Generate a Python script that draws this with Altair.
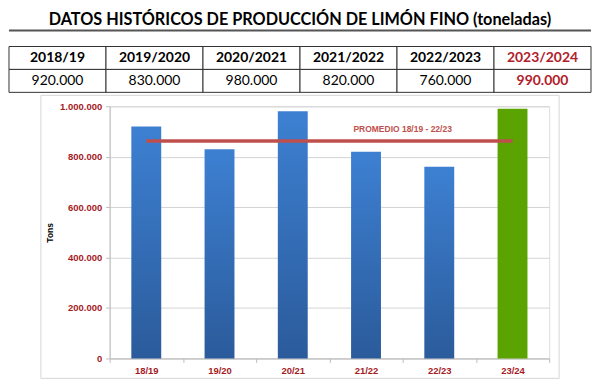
import altair as alt
import pandas as pd

# ---------------- data ----------------
seasons_full = ["2018/19", "2019/2020", "2020/2021", "2021/2022", "2022/2023", "2023/2024"]
seasons_short = ["18/19", "19/20", "20/21", "21/22", "22/23", "23/24"]
production = [920000, 830000, 980000, 820000, 760000, 990000]
is_current = [False, False, False, False, False, True]
y_ticks = [0, 200000, 400000, 600000, 800000, 1000000]
table_rows = ["h", "v"]
title_text = "DATOS HISTÓRICOS DE PRODUCCIÓN DE LIMÓN FINO (toneladas)"
avg_label = "PROMEDIO 18/19 - 22/23"
avg_first, avg_last, avg_text_at = "18/19", "23/24", "22/23"
y_title = "Tons"

promedio = sum(production[:5]) / 5.0

df = pd.DataFrame({"full": seasons_full, "short": seasons_short,
                   "value": production, "current": is_current})
grid_df = pd.DataFrame([{"full": f, "row": r} for r in table_rows for f in seasons_full])

# ---------------- styles ----------------
RED_AX = "#a51b1f"
RED_TB = "#b0202a"
AVG_C = "#bf4f4c"
W, H = 441, 253

# ---------------- bar chart ----------------
xs = alt.X("short:N", sort=seasons_short,
           scale=alt.Scale(domain=seasons_short, paddingInner=0, paddingOuter=0),
           axis=alt.Axis(title=None, labelColor=RED_AX, labelFont="Liberation Sans",
                         labelFontWeight="bold", labelFontSize=9.5, labelAngle=0,
                         labelPadding=3, tickBand="extent", tickColor="#bdbdbd",
                         tickSize=4, domainColor="#bdbdbd", grid=False))
ys = alt.Y("value:Q", scale=alt.Scale(domain=[0, 1000000]),
           axis=alt.Axis(values=y_ticks, format=",.0f", title=y_title,
                         titleFont="Liberation Sans", titleFontSize=8.5,
                         titleFontWeight="bold", titleColor="black", titlePadding=5,
                         labelColor=RED_AX, labelFont="Liberation Sans",
                         labelFontWeight="bold", labelFontSize=9.5, labelPadding=4,
                         gridColor="#d4d4d4", tickColor="#bdbdbd", tickSize=4,
                         domainColor="#bdbdbd"))

one = alt.Data(values=[{}])

frame = alt.Chart(one).mark_rect(fillOpacity=0, stroke="#d6d6d6", strokeWidth=1).encode(
    x=alt.value(-69), x2=alt.value(451), y=alt.value(-11), y2=alt.value(273))

blue = alt.Gradient(gradient="linear",
                    stops=[alt.GradientStop(color="#3d80d2", offset=0),
                           alt.GradientStop(color="#2b5b9b", offset=1)],
                    x1=0, x2=0, y1=0, y2=1)

bars_blue = alt.Chart(df).transform_filter("!datum.current").mark_bar(
    size=30, color=blue).encode(x=xs, y=ys)
bars_green = alt.Chart(df).transform_filter("datum.current").mark_bar(
    size=30, color="#5ba300").encode(x=xs, y=ys)

avg_rule = alt.Chart(one).mark_rule(color=AVG_C, strokeWidth=3.5).encode(
    x=alt.X(datum=avg_first, type="nominal", bandPosition=0.5),
    x2=alt.X2(datum=avg_last),
    y=alt.Y(datum=promedio, type="quantitative"))

avg_txt = alt.Chart(one).mark_text(text=avg_label, font="Liberation Sans", fontSize=8.5,
                                   fontWeight="bold", color=AVG_C, dy=-12,
                                   align="center", baseline="middle").encode(
    x=alt.X(datum=avg_text_at, type="nominal", bandPosition=0),
    y=alt.Y(datum=promedio, type="quantitative"))

bars_group = alt.layer(frame, bars_blue, bars_green, avg_rule, avg_txt)

# ---------------- table ----------------
tx = alt.X("full:N", sort=seasons_full,
           scale=alt.Scale(domain=seasons_full, range=[-101, 483], paddingInner=0, paddingOuter=0),
           axis=None)
ty_scale = alt.Scale(domain=table_rows, range=[-60, -14], paddingInner=0, paddingOuter=0)

cells = alt.Chart(grid_df).mark_rect(fill="white", stroke="#333333", strokeWidth=1).encode(
    x=tx, y=alt.Y("row:N", scale=ty_scale, axis=None))

txt_color = alt.condition("datum.current", alt.value(RED_TB), alt.value("black"))

head_txt = alt.Chart(df).mark_text(font="Lato", fontSize=14, fontWeight="bold",
                                   baseline="middle").encode(
    x=tx, y=alt.Y(datum="h", type="nominal"), text="full:N", color=txt_color)
val_txt = alt.Chart(df).transform_filter("!datum.current").mark_text(
    font="Lato", fontSize=14, baseline="middle").encode(
    x=tx, y=alt.Y(datum="v", type="nominal"),
    text=alt.Text("value:Q", format=",.0f"), color=alt.value("black"))
val_txt_cur = alt.Chart(df).transform_filter("datum.current").mark_text(
    font="Lato", fontSize=14, fontWeight="bold", baseline="middle").encode(
    x=tx, y=alt.Y(datum="v", type="nominal"),
    text=alt.Text("value:Q", format=",.0f"), color=alt.value(RED_TB))

underline = alt.Chart(one).mark_rule(color="#555555", strokeWidth=2).encode(
    x=alt.value(-101), x2=alt.value(483), y=alt.value(-76))

table_group = alt.layer(cells, head_txt, val_txt, val_txt_cur, underline)

chart = alt.layer(bars_group, table_group).resolve_scale(
    x="independent", y="independent").properties(
    width=W, height=H,
    padding={"top": 3, "left": 0, "right": 0, "bottom": 0},
    title=alt.TitleParams(text=title_text, font="Lato", fontSize=16.3, fontWeight="bold",
                          color="black", anchor="middle", frame="bounds", offset=1)
).configure_view(stroke=None).configure(
    locale={"number": {"decimal": ",", "thousands": ".", "grouping": [3], "currency": ["", "€"]}}
)

chart.save("out.html", embed_options={"renderer": "svg", "actions": False})
